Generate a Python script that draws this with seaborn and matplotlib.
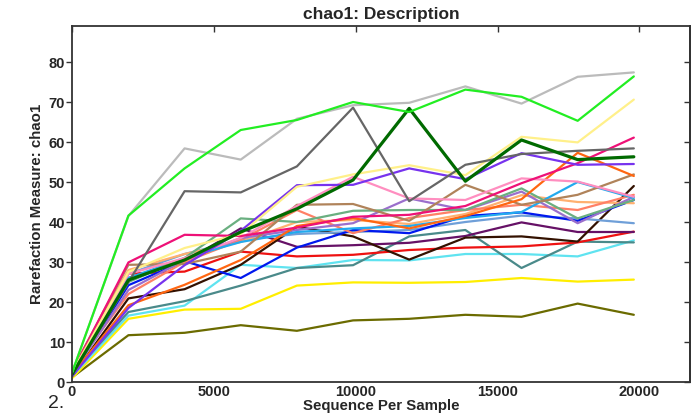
import matplotlib
matplotlib.use("Agg")
import matplotlib.pyplot as plt
import seaborn as sns
import pandas as pd

seq_per_sample = [10, 1989, 3968, 5947, 7926, 9905, 11884, 13863, 15842, 17821, 19800]

olive_vals      = [1.2, 11.7, 12.3, 14.2, 12.8, 15.4, 15.8, 16.8, 16.3, 19.6, 16.8]
yellow_vals     = [1.0, 15.8, 18.1, 18.3, 24.1, 24.9, 24.8, 25.0, 26.0, 25.1, 25.6]
cyan_vals       = [1.5, 16.6, 19.1, 29.3, 28.5, 30.5, 30.4, 32.0, 32.0, 31.4, 35.4]
teal_vals       = [2.0, 17.5, 20.2, 24.1, 28.5, 29.2, 36.4, 38.0, 28.5, 35.1, 34.9]
red_vals        = [2.5, 27.1, 27.6, 32.6, 31.4, 31.8, 33.0, 33.6, 33.9, 34.9, 37.6]
dpurple_vals    = [2.0, 26.0, 30.0, 38.4, 33.8, 34.2, 34.8, 36.5, 39.9, 37.5, 37.5]
black_vals      = [1.5, 20.9, 23.2, 29.3, 38.8, 36.4, 30.6, 36.1, 36.4, 35.1, 49.0]
steel_vals      = [2.5, 27.0, 32.0, 35.5, 37.0, 37.5, 38.0, 40.0, 41.6, 40.9, 39.7]
blue_vals       = [2.0, 24.2, 30.2, 26.0, 33.6, 38.0, 37.2, 41.5, 42.4, 40.3, 45.5]
lorange_vals    = [3.0, 28.0, 32.0, 35.0, 40.0, 40.5, 39.5, 42.0, 46.7, 45.0, 44.7]
salmon_vals     = [3.0, 22.0, 30.0, 35.5, 43.0, 37.2, 41.0, 43.0, 44.3, 43.0, 46.8]
mpurple_vals    = [2.0, 23.0, 30.5, 36.0, 38.0, 39.7, 45.9, 43.0, 47.6, 39.7, 46.3]
dodger_vals     = [2.0, 26.0, 31.0, 35.0, 37.5, 38.4, 39.0, 41.0, 42.5, 50.0, 46.0]
seagreen_vals   = [2.5, 25.0, 31.0, 40.9, 40.0, 42.8, 43.0, 43.0, 48.4, 40.9, 45.5]
tan_vals        = [3.0, 29.3, 29.5, 32.6, 44.3, 44.5, 40.3, 49.3, 44.3, 46.8, 51.9]
orange_vals     = [2.0, 19.2, 24.3, 30.5, 39.0, 41.0, 38.4, 41.5, 45.7, 57.3, 51.5]
hotpink_vals    = [2.5, 27.0, 31.0, 36.0, 44.0, 51.3, 45.9, 45.5, 50.9, 50.1, 46.3]
deeppink_vals   = [2.5, 29.9, 36.8, 36.5, 38.6, 41.3, 41.8, 44.0, 49.7, 54.7, 61.1]
violet_vals     = [1.5, 18.5, 29.2, 37.8, 49.2, 49.3, 53.4, 50.7, 57.2, 54.3, 54.5]
khaki_vals      = [2.5, 27.5, 33.5, 37.0, 48.8, 51.9, 54.2, 51.7, 61.3, 59.9, 70.6]
dimgray_vals    = [2.0, 25.0, 47.7, 47.4, 53.9, 68.6, 45.2, 54.3, 57.0, 57.8, 58.4]
dgreen_vals     = [2.0, 25.5, 30.5, 37.5, 43.3, 50.5, 68.4, 50.2, 60.5, 55.6, 56.3]
lgray_vals      = [2.5, 41.5, 58.4, 55.6, 65.8, 69.2, 69.8, 73.9, 69.6, 76.3, 77.4]
lime_vals       = [2.5, 41.6, 53.4, 63.0, 65.5, 70.0, 67.5, 73.1, 71.3, 65.3, 76.4]

series = [
    ("olive", olive_vals, "#6b6b00"),
    ("yellow", yellow_vals, "#ffee00"),
    ("cyan", cyan_vals, "#5fe3f0"),
    ("teal", teal_vals, "#4a8a8a"),
    ("red", red_vals, "#ee1111"),
    ("dpurple", dpurple_vals, "#661166"),
    ("black", black_vals, "#331100"),
    ("steel", steel_vals, "#6f9fd8"),
    ("blue", blue_vals, "#0018ee"),
    ("lorange", lorange_vals, "#ffb070"),
    ("salmon", salmon_vals, "#ff8066"),
    ("mpurple", mpurple_vals, "#9b6fcc"),
    ("dodger", dodger_vals, "#22aaee"),
    ("seagreen", seagreen_vals, "#6aaf80"),
    ("tan", tan_vals, "#b0835a"),
    ("orange", orange_vals, "#ff6611"),
    ("hotpink", hotpink_vals, "#ff8ec0"),
    ("deeppink", deeppink_vals, "#ee1177"),
    ("violet", violet_vals, "#7733ee"),
    ("khaki", khaki_vals, "#fff08a"),
    ("dimgray", dimgray_vals, "#666666"),
    ("dgreen", dgreen_vals, "#006a00"),
    ("lgray", lgray_vals, "#bbbbbb"),
    ("lime", lime_vals, "#22ee22"),
]

rows = []
for name, vals, _ in series:
    for x, v in zip(seq_per_sample, vals):
        rows.append({"sample": name, "seq": x, "chao1": v})
df = pd.DataFrame(rows)
order = [s[0] for s in series]
palette = {s[0]: s[2] for s in series}

sns.set_style("white")
plt.rcParams["font.family"] = ["Liberation Sans", "DejaVu Sans"]

fig = plt.figure(figsize=(6.95, 4.18), dpi=100)
ax = fig.add_axes([72 / 695, 1 - 382 / 418, (690 - 72) / 695, (382 - 26) / 418])

sns.lineplot(data=df, x="seq", y="chao1", hue="sample", hue_order=order,
             palette=palette, estimator=None, sort=False, legend=False,
             linewidth=1.6, ax=ax)
for ln, (name, _, _) in zip(ax.lines, series):
    if name == "dgreen":
        ln.set_linewidth(2.3)

ax.set_xlim(0, 21780)
ax.set_ylim(0, 89)
ax.set_xticks([0, 5000, 10000, 15000, 20000])
ax.set_yticks([0, 10, 20, 30, 40, 50, 60, 70, 80])

for sp in ax.spines.values():
    sp.set_color("#333333")
    sp.set_linewidth(1.3)

ax.tick_params(axis="x", direction="in", bottom=False, top=True, length=4,
               width=1, color="#333333", labelsize=10.5, pad=2)
ax.tick_params(axis="y", direction="out", left=True, right=False, length=4,
               width=1, color="#333333", labelsize=10.5, pad=1)
for lab in ax.get_xticklabels() + ax.get_yticklabels():
    lab.set_fontweight("bold")

sec = ax.secondary_yaxis("right")
sec.set_yticks([0, 10, 20, 30, 40, 50, 60, 70, 80])
sec.tick_params(direction="in", length=4, width=1, color="#333333", labelright=False)
sec.spines["right"].set_color("#333333")
sec.spines["right"].set_linewidth(1.3)

ax.set_xlabel("Sequence Per Sample", fontsize=10.8, fontweight="bold", labelpad=0)
ax.set_ylabel("Rarefaction Measure: chao1", fontsize=10.8, fontweight="bold", labelpad=3)
ax.set_title("chao1: Description", fontsize=12.5, fontweight="bold", pad=5)

fig.text(48 / 695, 1 - 408 / 418, "2.", fontsize=14, va="baseline", ha="left")

fig.savefig("out.png", dpi=100)
